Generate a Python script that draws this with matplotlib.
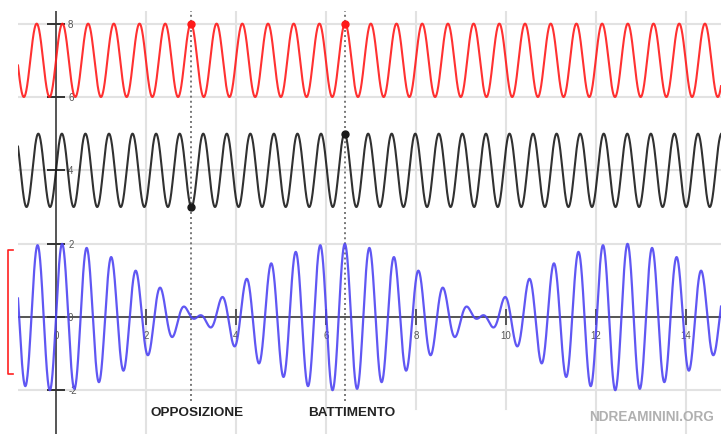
import numpy as np
import matplotlib
matplotlib.use("Agg")
import matplotlib.pyplot as plt

# wave parameters: y = offset + sin(omega * x)
omegas = [11, 12]
offsets = [7, 4]
wave_colors = ["#ff1a1a", "#1a1a1a"]
sum_color = "#4f45f2"

# the two marked instants
mark_x = [3.0, 6.426]
mark_labels = ["OPPOSIZIONE", "BATTIMENTO"]

x_ticks = [0, 2, 4, 6, 8, 10, 12, 14]
y_ticks = [-2, 0, 2, 4, 6, 8]

plt.rcParams['font.family'] = ['Liberation Sans', 'DejaVu Sans']

fig = plt.figure(figsize=(7.21, 4.35), dpi=100)
ax = fig.add_axes([18 / 721, 0, 703 / 721, 423 / 435])
ax.set_xlim(-0.844, 14.78)
ax.set_ylim(-3.19, 8.345)
ax.axis("off")

# grid
grid_c = "#e2e2e2"
for yv in y_ticks:
    ax.axhline(yv, color=grid_c, lw=1.5, zorder=0)
for xv in x_ticks[1:]:
    # the 8 and 10 grid lines stop short in the original
    top = 1.0
    bottom = 0.0 if xv not in (8, 10) else (-2.5 + 3.19) / (8.345 + 3.19)
    ax.axvline(xv, ymin=bottom, ymax=top, color=grid_c, lw=1.5, zorder=0)

# axes
axis_c = "#555555"
ax.axhline(0, color=axis_c, lw=1.4, zorder=1)
ax.axvline(0, color=axis_c, lw=1.4, zorder=1)
ax.plot(x_ticks[1:], [0] * (len(x_ticks) - 1), ls="none", marker="|",
        ms=12, mew=1.4, color=axis_c, zorder=1)
ax.plot([0] * len(y_ticks), y_ticks, ls="none", marker="_",
        ms=13, mew=1.4, color="#333333", zorder=1)

for xv in x_ticks:
    ax.text(xv, -0.5, str(xv), ha="center", va="center", fontsize=7, color=axis_c)
for yv in y_ticks:
    ax.text(0.27, yv, str(yv), ha="left", va="center", fontsize=7, color=axis_c)

# curves
x = np.linspace(-0.844, 14.78, 4000)
waves = [off + np.sin(w * x) for w, off in zip(omegas, offsets)]
for yv, c in zip(waves, wave_colors):
    ax.plot(x, yv, color=c, lw=1.5, alpha=0.9, zorder=3)
total = sum(np.sin(w * x) for w in omegas)
ax.plot(x, total, color=sum_color, lw=1.6, alpha=0.9, zorder=3)

# marked instants
for mx, lab in zip(mark_x, mark_labels):
    ax.plot([mx, mx], [-2.29, 8.345], color="#777777", lw=1.4,
            ls=(0, (1, 1.6)), zorder=2)
    for w, off, c in zip(omegas, offsets, wave_colors):
        ax.plot(mx, off + np.sin(w * mx), "o", ms=5, color=c, zorder=4)
    ax.text(mx + 0.14, -2.59, lab, ha="center", va="center", fontsize=9.7,
            fontweight="bold", color="#222222")

ax.text(13.24, -2.70, "NDREAMININI.ORG", ha="center", va="center",
        fontsize=9.8, fontweight="bold", color="#b0b0b0")

# red bracket on the left
bx = [-0.962, -1.06, -1.06, -0.962]
by = [1.83, 1.83, -1.55, -1.55]
ax.plot(bx, by, color="#ff2020", lw=1.2, clip_on=False)

fig.savefig("out.png", dpi=100)
